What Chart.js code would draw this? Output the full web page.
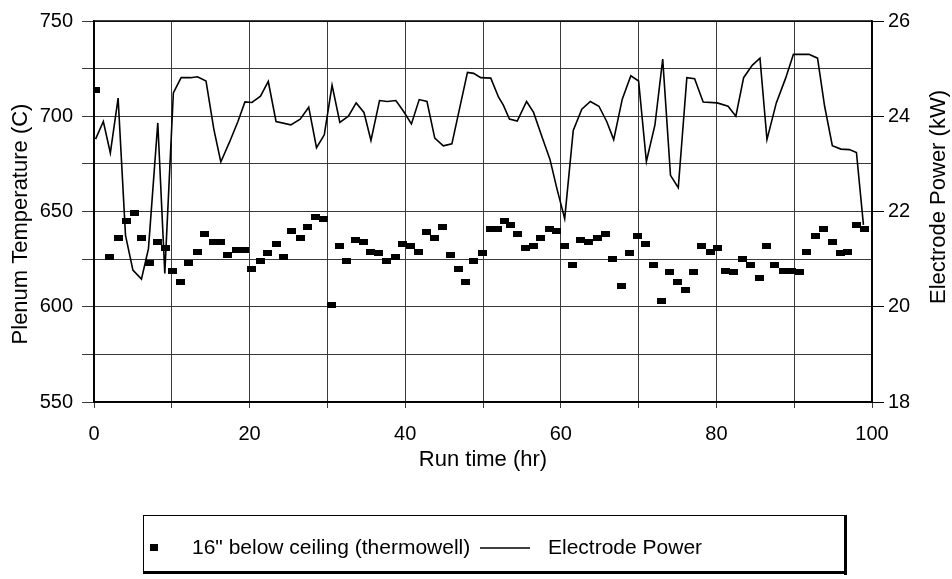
<!DOCTYPE html>
<html>
<head>
<meta charset="utf-8">
<style>
html,body{margin:0;padding:0;background:#fff;}
#wrap{width:952px;height:579px;}
</style>
</head>
<body>
<div id="wrap"><canvas id="plenum" width="952" height="579"></canvas></div>
<script src="https://cdnjs.cloudflare.com/ajax/libs/Chart.js/4.4.1/chart.umd.js"></script>
<script>
// thermowell, 16" below ceiling (hr, C)
const tempHours=[0.2,2.0,3.1,4.2,5.2,6.1,7.1,8.1,9.2,10.1,11.1,12.2,13.3,14.2,15.3,16.3,17.2,18.3,19.3,20.3,
  21.4,22.3,23.4,24.4,25.4,26.5,27.5,28.5,29.5,30.5,31.5,32.5,33.6,34.6,35.5,36.6,37.6,38.7,39.6,40.7,
  41.7,42.7,43.8,44.8,45.8,46.9,47.8,48.8,49.9,51.0,51.9,52.7,53.5,54.4,55.4,56.5,57.4,58.5,59.5,60.5,
  61.5,62.5,63.6,64.7,65.7,66.7,67.8,68.8,69.8,70.9,71.9,72.9,74.0,75.0,76.0,77.1,78.1,79.2,80.2,81.2,
  82.2,83.3,84.4,85.5,86.5,87.5,88.6,89.6,90.7,91.6,92.7,93.8,94.9,95.9,96.9,98.0,99.0];
const tempValues=[714,626,636,645,649,636,623,634,631,619,613,623,629,638,634,634,627,630,630,620,
  624,628,633,626,640,636,642,647,646,601,632,624,635,634,629,628,624,626,633,632,
  629,639,636,642,627,620,613,624,628,641,641,645,643,638,631,632,636,641,640,632,
  622,635,634,636,638,625,611,628,637,633,622,603,618,613,609,618,632,629,631,619,
  618,625,622,615,632,622,619,619,618,629,637,641,634,628,629,643,641];

// electrode power (hr, kW)
const powerHours=[0.2,1.2,2.1,3.1,4.05,5.0,6.1,7.0,8.2,9.1,10.2,11.2,12.4,13.3,14.4,15.4,16.3,17.4,18.5,19.4,
  20.3,21.4,22.4,23.4,25.3,26.5,27.6,28.6,29.6,30.6,31.6,32.7,33.7,34.7,35.6,36.7,37.7,38.8,39.8,40.8,
  41.8,42.8,43.8,44.9,46.0,48.0,48.8,49.7,51.0,52.0,52.6,53.4,54.4,55.6,56.5,57.6,58.6,59.5,60.5,61.6,
  62.7,63.8,64.9,65.9,66.8,67.9,69.0,70.0,71.0,72.1,73.1,74.1,75.1,76.2,77.2,78.3,80.1,81.5,82.5,83.5,
  84.6,85.6,86.5,87.7,88.9,89.9,91.9,93.0,93.9,94.9,96.0,97.1,98.0,98.9];
const powerValues=[23.52,23.89,23.23,24.38,21.5,20.77,20.58,21.22,23.86,20.7,24.49,24.81,24.81,24.83,24.74,23.73,23.04,23.45,23.89,24.3,
  24.29,24.42,24.73,23.89,23.82,23.94,24.19,23.34,23.61,24.65,23.87,24.0,24.28,24.08,23.49,24.33,24.31,24.33,24.1,23.84,
  24.35,24.31,23.54,23.38,23.42,24.92,24.9,24.81,24.8,24.4,24.24,23.94,23.9,24.31,24.08,23.56,23.1,22.48,21.85,23.7,
  24.15,24.31,24.21,23.89,23.51,24.36,24.85,24.74,23.05,23.82,25.2,22.76,22.5,24.81,24.79,24.3,24.28,24.21,24.0,24.81,
  25.07,25.22,23.51,24.28,24.8,25.3,25.3,25.22,24.22,23.38,23.31,23.3,23.24,21.72];

const tempLabel='16" below ceiling (thermowell)';
const powerLabel='Electrode Power';
const leftTitle='Plenum Temperature (C)';
const rightTitle='Electrode Power (kW)';
const FONT='"Liberation Sans", Arial, sans-serif';

// black bar-shaped marker
const marker=document.createElement('canvas');
marker.width=9;marker.height=6;
(function(){const m=marker.getContext('2d');m.fillStyle='#000';m.fillRect(0,0,9,6);})();

const toPts=(xs,ys)=>xs.map((x,i)=>({x,y:ys[i]}));

function vText(ctx,txt,x,y){
  ctx.save();
  ctx.translate(x,y);ctx.rotate(-Math.PI/2);
  ctx.fillText(txt,0,0);
  ctx.restore();
}

// frame, the two vertical titles and the boxed legend
const extras={
  id:'extras',
  afterDraw(chart){
    const {ctx,chartArea:a}=chart;
    ctx.save();
    ctx.strokeStyle='#000';ctx.lineWidth=1.5;
    ctx.strokeRect(a.left,a.top,a.right-a.left,a.bottom-a.top);

    ctx.fillStyle='#000';
    ctx.font='22px '+FONT;
    ctx.textAlign='center';ctx.textBaseline='middle';
    vText(ctx,leftTitle,21,224);
    vText(ctx,rightTitle,939,197);
    ctx.restore();

    // legend
    ctx.save();
    const L=143,T=515,R=845,B=572,cy=548;
    ctx.strokeStyle='#000';ctx.lineWidth=1;
    ctx.strokeRect(L+0.5,T+0.5,R-L,B-T);
    ctx.fillStyle='#000';
    ctx.fillRect(R-1,T,3,B-T+3);
    ctx.fillRect(L,B-1,R-L+2,3);
    const ds=chart.data.datasets;
    ctx.fillRect(150,cy-4,8,7);
    ctx.font='21px '+FONT;ctx.textAlign='left';ctx.textBaseline='middle';
    ctx.fillText(ds[0].label,192,cy);
    ctx.lineWidth=1.5;
    ctx.beginPath();ctx.moveTo(480,cy);ctx.lineTo(530,cy);ctx.stroke();
    ctx.fillText(ds[1].label,548,cy);
    ctx.restore();
  }
};

new Chart(document.getElementById('plenum'),{
  type:'scatter',
  data:{datasets:[
    {label:tempLabel,data:toPts(tempHours,tempValues),yAxisID:'y',
     pointStyle:marker,pointRadius:5,showLine:false,backgroundColor:'#000',borderColor:'#000'},
    {label:powerLabel,data:toPts(powerHours,powerValues),yAxisID:'y1',
     showLine:true,pointRadius:0,borderColor:'#000',borderWidth:1.6,tension:0}
  ]},
  options:{
    responsive:false,animation:false,devicePixelRatio:1,
    layout:{padding:{top:20,left:0,right:0,bottom:0}},
    plugins:{legend:{display:false},tooltip:{enabled:false}},
    scales:{
      x:{type:'linear',min:0,max:100,
        afterFit:s=>{s.height=177;},
        ticks:{stepSize:10,color:'#000',padding:14,font:{family:FONT,size:20},
          callback:v=>v%20===0?v:''},
        grid:{color:'#3a3a3a',lineWidth:1,tickLength:6},
        border:{color:'#000',width:1.5},
        title:{display:true,text:'Run time (hr)',color:'#000',font:{family:FONT,size:22},padding:{top:0,bottom:106}}
      },
      y:{position:'left',min:550,max:750,
        afterFit:s=>{s.width=94;},
        ticks:{stepSize:25,color:'#000',padding:9,font:{family:FONT,size:20},
          callback:v=>v%50===0?v:''},
        grid:{color:'#3a3a3a',lineWidth:1,tickLength:12},
        border:{color:'#000',width:1.5}
      },
      y1:{position:'right',min:18,max:26,
        afterFit:s=>{s.width=80;},
        ticks:{stepSize:2,color:'#000',padding:4,font:{family:FONT,size:20}},
        grid:{drawOnChartArea:false,color:'#000',tickLength:12},
        border:{color:'#000',width:1.5}
      }
    }
  },
  plugins:[extras]
});
</script>
</body>
</html>
